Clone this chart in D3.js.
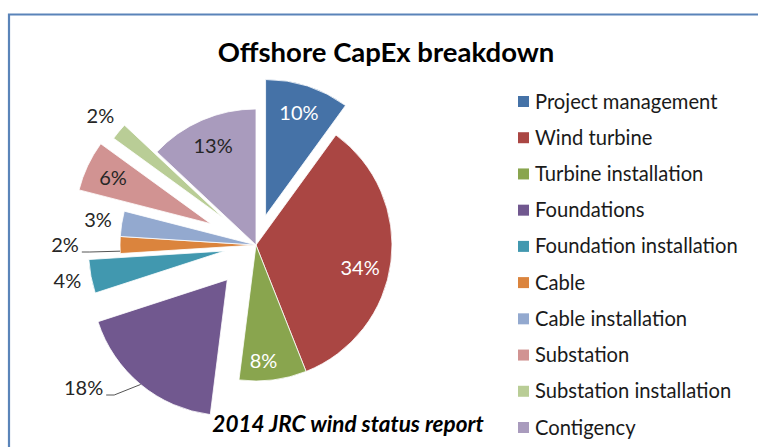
<!DOCTYPE html>
<html>
<head>
<meta charset="utf-8">
<script src="https://cdn.jsdelivr.net/npm/d3@7"></script>
<style>
  body { margin: 0; background: #fff; }
  svg { display: block; font-family: Lato, "Noto Sans", sans-serif; }
</style>
</head>
<body>
<svg id="chart" width="758" height="447"></svg>
<script>
// Offshore wind capital expenditure, share of total (%)
const categories = [
  "Project management", "Wind turbine", "Turbine installation", "Foundations",
  "Foundation installation", "Cable", "Cable installation", "Substation",
  "Substation installation", "Contigency"
];
const shares = [10, 34, 8, 18, 4, 2, 3, 6, 2, 13];

// Styling, kept apart from the values
const colors = ["#4572A7", "#AA4643", "#89A54E", "#71588F", "#4198AF",
                "#DB843D", "#93A9CF", "#D19392", "#B9CD96", "#A99BBD"];
const explodeBy = [31, 0, 0, 45, 32, 0, 0, 50, 42, 0];
const labelMode = ["in", "in", "in", "leader", "out", "leader", "out", "in", "out", "in"];
const labelInk = ["#ffffff", "#ffffff", "#ffffff", "#262626", "#262626",
                  "#262626", "#262626", "#262626", "#262626", "#262626"];
const labelNudge = { "Wind turbine": [-3, 9], "Turbine installation": [-6, 9] };
const leaderLabels = {
  "Foundations": { angle: 233, radius: 180, attach: null },
  "Cable": { angle: 270, radius: 191, attach: 267.4 }
};

const svg = d3.select("#chart");
const W = 758, H = 447;

// chart frame
svg.append("path")
  .attr("d", `M9,${H} L9,14.5 L${W},14.5`)
  .attr("fill", "none")
  .attr("stroke", "#5a84b9")
  .attr("stroke-width", 2.2);

// title
svg.append("text")
  .attr("x", 386).attr("y", 62)
  .attr("text-anchor", "middle")
  .attr("font-size", 27.5).attr("font-weight", 700)
  .attr("fill", "#000")
  .text("Offshore CapEx breakdown");

// source note
svg.append("text")
  .attr("x", 348).attr("y", 432)
  .attr("text-anchor", "middle")
  .attr("font-size", 22.5).attr("font-weight", 700).attr("font-style", "italic")
  .attr("fill", "#000")
  .text("2014 JRC wind status report");

const cx = 256, cy = 245, R = 136;
const rad = Math.PI / 180;
const dir = a => [Math.sin(a), -Math.cos(a)];

const pie = d3.pie().sort(null).value(d => d.v);
const slices = pie(categories.map((c, i) => ({ c, v: shares[i], i })));
const arc = d3.arc().innerRadius(0).outerRadius(R);
const labelArcIn = d3.arc().innerRadius(108).outerRadius(108);
const labelArcOut = d3.arc().innerRadius(160).outerRadius(160);

const g = svg.append("g").attr("transform", `translate(${cx},${cy})`);

const sliceG = g.selectAll("g.slice").data(slices).join("g")
  .attr("class", "slice")
  .attr("transform", d => {
    const m = (d.startAngle + d.endAngle) / 2;
    const [ux, uy] = dir(m);
    const k = explodeBy[d.data.i];
    return `translate(${ux * k},${uy * k})`;
  });

sliceG.append("path")
  .attr("d", arc)
  .attr("fill", d => colors[d.data.i])
  .attr("stroke", "#ffffff")
  .attr("stroke-width", 0.8);

// value labels
sliceG.each(function (d) {
  const sel = d3.select(this);
  const mode = labelMode[d.data.i];
  const txt = d.data.v + "%";
  let x, y;
  if (mode === "in") {
    [x, y] = labelArcIn.centroid(d);
  } else if (mode === "out") {
    [x, y] = labelArcOut.centroid(d);
  } else {
    const L = leaderLabels[d.data.c];
    const [ux, uy] = dir(L.angle * rad);
    x = ux * L.radius; y = uy * L.radius;
  }
  const nudge = labelNudge[d.data.c];
  if (nudge) { x += nudge[0]; y += nudge[1]; }

  const t = sel.append("text")
    .attr("x", x).attr("y", y).attr("dy", "0.35em")
    .attr("text-anchor", "middle")
    .attr("font-size", 20)
    .attr("fill", labelInk[d.data.i])
    .text(txt);

  if (mode === "leader") {
    const L = leaderLabels[d.data.c];
    const w = t.node().getComputedTextLength();
    const a = L.attach != null ? L.attach * rad : (d.startAngle + d.endAngle) / 2;
    const [px, py] = dir(a).map(v => v * R);
    const right = x + w / 2;
    const ly = y + 7;
    sel.insert("path", "text")
      .attr("d", d3.line()([[px, py], [right + 11, ly], [right + 3, ly]]))
      .attr("fill", "none")
      .attr("stroke", "#555")
      .attr("stroke-width", 1);
  }
});

// legend
const legendY = d3.scalePoint().domain(categories).range([101.5, 427.5]);
const leg = svg.append("g").selectAll("g").data(categories).join("g")
  .attr("transform", c => `translate(518,${legendY(c)})`);
leg.append("rect")
  .attr("x", 0).attr("y", -5.5).attr("width", 11).attr("height", 11)
  .attr("fill", (c, i) => colors[i]);
leg.append("text")
  .attr("x", 17).attr("y", 0).attr("dy", "0.35em")
  .attr("font-size", 20.2)
  .attr("fill", "#1a1a1a")
  .text(c => c);
</script>
</body>
</html>
